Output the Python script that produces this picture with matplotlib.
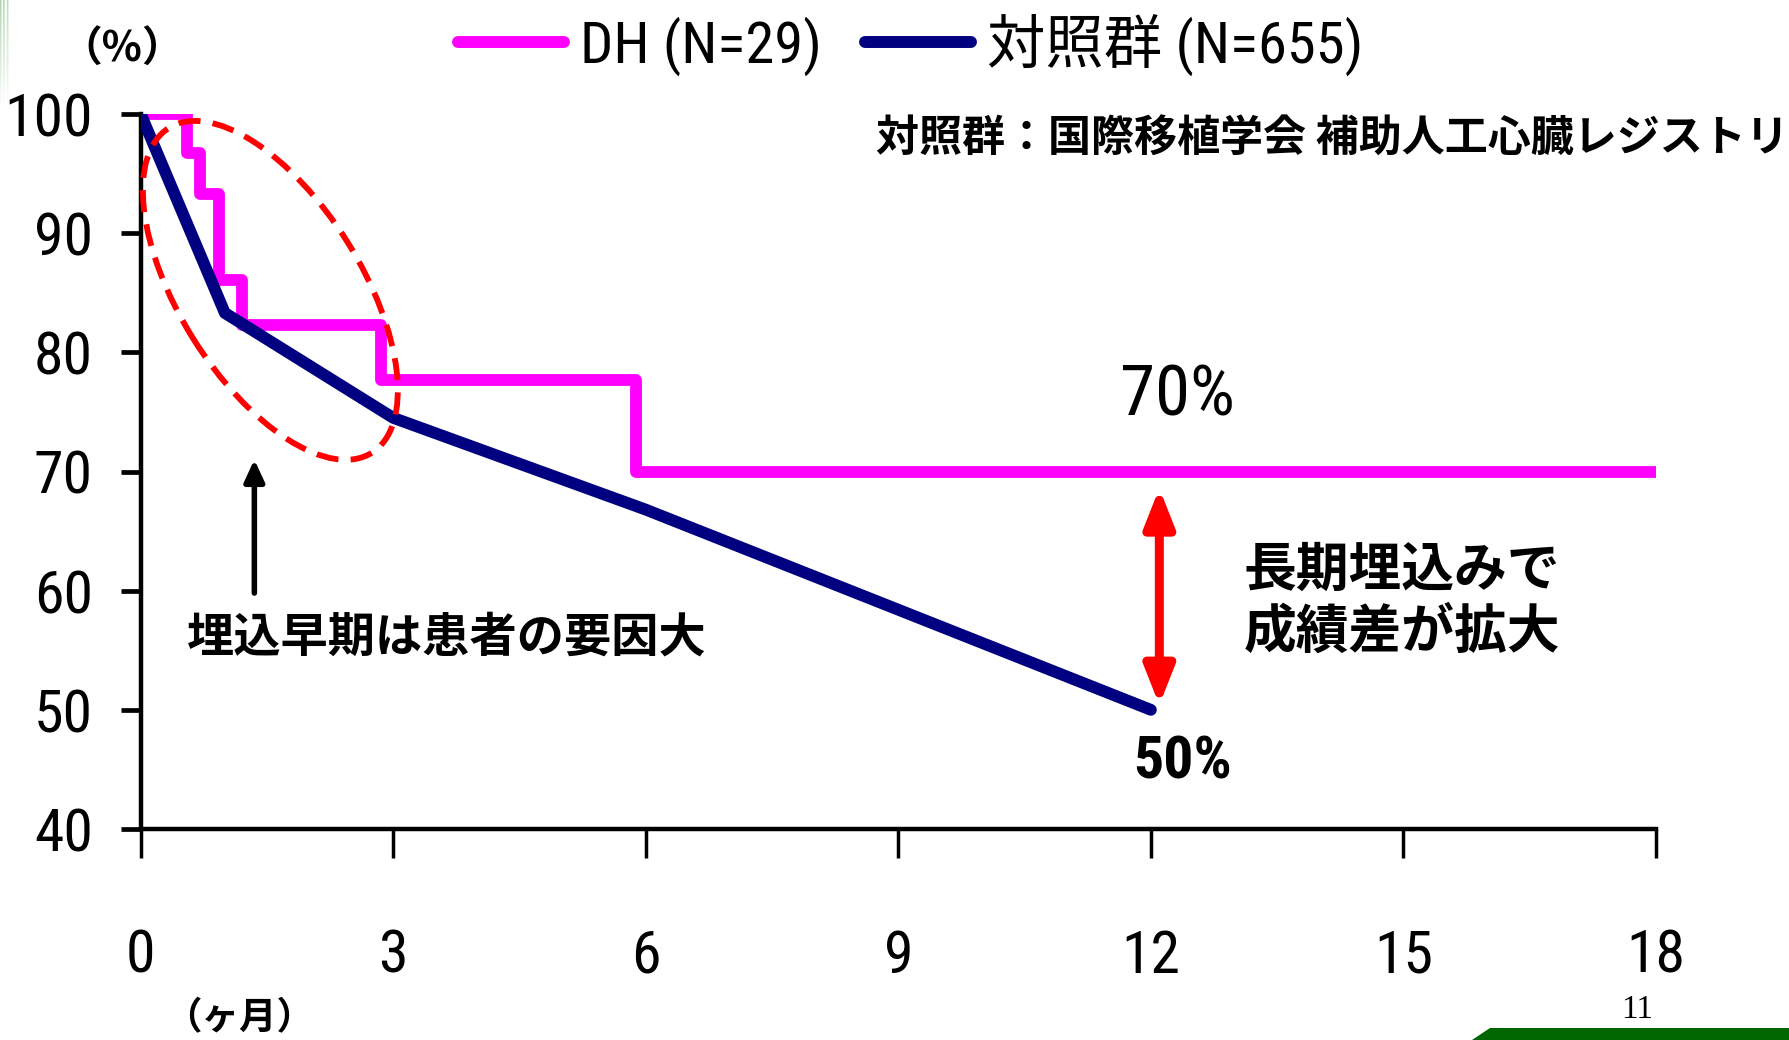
import numpy as np
import matplotlib
matplotlib.use("Agg")
import matplotlib.pyplot as plt
from matplotlib import font_manager as fm
from matplotlib.patches import Ellipse, Polygon
from matplotlib.transforms import ScaledTranslation

# ---- data ----
month_ticks = [0, 3, 6, 9, 12, 15, 18]
percent_ticks = [40, 50, 60, 70, 80, 90, 100]

dh_months = [0, 0.55, 0.70, 0.93, 1.20, 2.86, 5.88, 18]
dh_survival = [100, 96.7, 93.3, 86.1, 82.3, 77.7, 70.0, 70.0]

control_months = [0, 1, 3, 6, 12]
control_survival = [100, 83.3, 74.5, 66.8, 50.0]

dh_label = "DH (N=29)"
control_label = "対照群 (N=655)"

# ---- fonts: a narrow Latin face with a Japanese fallback ----
names = {f.name for f in fm.fontManager.ttflist}
narrow_stretch = "normal"
for cand in ["Liberation Sans Narrow", "DejaVu Sans Condensed", "Roboto Condensed",
             "Open Sans Condensed"]:
    if cand in names:
        NARROW = cand
        break
else:
    if any(f.name == "DejaVu Sans" and str(f.stretch) == "condensed"
           for f in fm.fontManager.ttflist):
        NARROW, narrow_stretch = "DejaVu Sans", "condensed"
    else:
        NARROW = "Liberation Sans"
JP = "Noto Sans CJK JP"
plt.rcParams["font.family"] = [NARROW, JP]
plt.rcParams["font.stretch"] = narrow_stretch

W, H = 1789, 1040
fig = plt.figure(figsize=(W / 100, H / 100), dpi=100)
fig.patch.set_facecolor("white")
ax = fig.add_axes([140.7 / W, 1 - 829 / H, (1656 - 140.7) / W, (829 - 114) / H])

# ---- survival curves ----
ax.plot(dh_months, dh_survival, drawstyle="steps-post", color="#FF00FF", lw=8.5,
        solid_capstyle="round", solid_joinstyle="round", label=dh_label, zorder=3)
ax.plot(control_months, control_survival, color="#000080", lw=8.5,
        solid_capstyle="round", solid_joinstyle="round", label=control_label, zorder=4)

ax.set_xlim(0, 18)
ax.set_ylim(40, 100)
ax.set_xticks(month_ticks)
ax.set_yticks(percent_ticks)
for s in ["top", "right"]:
    ax.spines[s].set_visible(False)
for s in ["left", "bottom"]:
    ax.spines[s].set_linewidth(3.2)
ax.tick_params(axis="y", length=14.5, width=3.4, pad=20, labelsize=43)
ax.tick_params(axis="x", length=21, width=2.5, pad=50, labelsize=43)

# ---- legend across the top ----
fs_leg = 42
px = fs_leg * 100 / 72
leg = ax.legend(loc="center left", bbox_to_anchor=(458 / W, 1 - 45 / H),
                bbox_transform=fig.transFigure, ncol=2, frameon=False,
                borderpad=0, borderaxespad=0, handlelength=106 / px,
                handletextpad=16 / px, columnspacing=43 / px,
                prop={"size": fs_leg})
for line in leg.get_lines():
    line.set_linewidth(8.6)

# ---- annotations ----
ell = Ellipse((0, 0), width=3.83, height=1.82, angle=-58,
              transform=fig.dpi_scale_trans + ScaledTranslation(1.54, 85.2, ax.transData),
              fill=False, edgecolor="#FF0000", linewidth=4.2, linestyle=(0, (3.8, 2.1)),
              zorder=5, clip_on=False)
ax.add_patch(ell)

ax.annotate("", xy=(12.1, 68.6), xytext=(12.1, 50.4),
            arrowprops=dict(arrowstyle="<|-|>,head_length=1.9,head_width=0.75",
                            mutation_scale=12, lw=6.5, color="#FF0000",
                            shrinkA=0, shrinkB=0), zorder=5)
ax.annotate("", xy=(1.35, 71.0), xytext=(1.35, 59.8),
            arrowprops=dict(arrowstyle="-|>,head_length=1.3,head_width=0.6",
                            mutation_scale=10, lw=4, color="black",
                            shrinkA=0, shrinkB=0))

ax.text(3.64, 56.1, "埋込早期は患者の要因大", family=JP, weight="bold", size=34,
        ha="center", va="center")
ax.text(13.1, 59.1, "長期埋込みで\n成績差が拡大", family=JP, weight="bold", size=38,
        ha="left", va="center", linespacing=1.22)
ax.text(12.32, 76.3, "70%", size=51, ha="center", va="center")
ax.text(12.38, 45.6, "50%", size=43, weight="bold", ha="center", va="center", clip_on=False)

fig.text(876 / W, 1 - 139 / H, "対照群：国際移植学会 補助人工心臓レジストリ",
         family=JP, weight="bold", size=31, ha="left", va="center")
fig.text(122 / W, 1 - 50 / H, "（%）", family=JP, weight="bold", size=30,
         ha="center", va="center")
fig.text(239 / W, 1 - 1018 / H, "（ヶ月）", family=JP, weight="bold", size=27,
         ha="center", va="center")
fig.text(1637 / W, 1 - 1010 / H, "11", family="Liberation Serif", size=24,
         ha="center", va="center")

# ---- slide decorations ----
bar = Polygon([(1472 / W, 0), (1490 / W, 12 / H), (1, 12 / H), (1, 0)], closed=True,
              transform=fig.transFigure, facecolor="#006600", edgecolor="none")
fig.add_artist(bar)

deco = fig.add_axes([0, 1 - 110 / H, 10 / W, 110 / H])
deco.axis("off")
cols = np.array([0.7, 0.35, 0.0, 0.6, 0.45, 0.0, 0.15, 0.55, 0.25, 0.0])
fade = np.linspace(0.85, 0.0, 110)[:, None]
rgba = np.ones((110, 10, 4))
rgba[..., 0] = 0.45
rgba[..., 1] = 0.72
rgba[..., 2] = 0.45
rgba[..., 3] = cols[None, :] * fade
deco.imshow(rgba, aspect="auto", interpolation="nearest")

fig.savefig("out.png", dpi=100)
